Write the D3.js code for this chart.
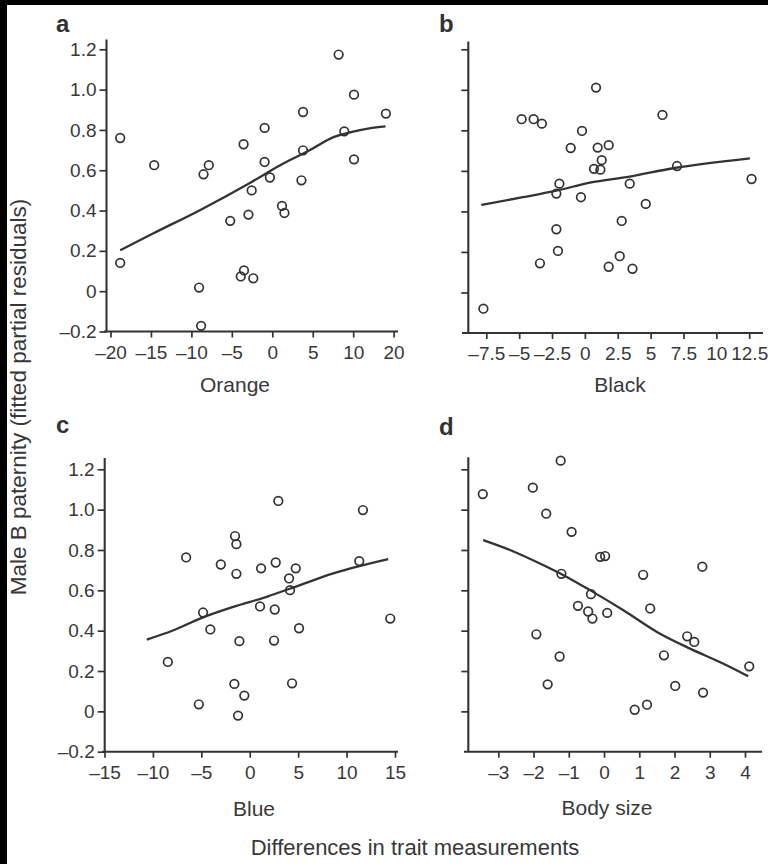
<!DOCTYPE html>
<html><head><meta charset="utf-8">
<script src="https://cdn.jsdelivr.net/npm/d3@7"></script>
<style>body{margin:0;background:#fff} svg{display:block}</style>
</head><body><svg id="chart" width="768" height="864"></svg>
<script>
// ---------- data ----------
const orangePoints = [[-18.8,0.76],[-18.8,0.14],[-14.6,0.625],[-8.5,0.58],[-7.85,0.625],[-9.05,0.018],[-8.8,-0.172],[-3.55,0.729],[-5.2,0.349],[-2.55,0.50],[-2.95,0.38],[-3.5,0.103],[-3.9,0.073],[-2.35,0.064],[-0.95,0.81],[-0.95,0.641],[-0.3,0.564],[1.2,0.423],[1.5,0.388],[3.8,0.889],[3.8,0.699],[3.6,0.55],[8.2,1.174],[8.9,0.793],[10.2,0.975],[10.2,0.654],[18.1,0.881]];
const orangeFit = [[-18.8,0.203],[-14.75,0.286],[-8.95,0.402],[-2.55,0.542],[1.35,0.633],[4.66,0.70],[7.5,0.763],[10,0.792],[14,0.808],[18,0.818]];

const blackPoints = [[-7.72,-0.08],[-4.81,0.855],[-3.9,0.855],[-3.27,0.833],[-1.08,0.713],[-0.22,0.797],[0.85,1.011],[0.97,0.715],[1.81,0.727],[1.28,0.653],[0.69,0.61],[1.18,0.606],[-1.94,0.537],[-2.17,0.488],[-0.3,0.47],[3.41,0.537],[4.63,0.437],[5.9,0.876],[7.01,0.624],[12.68,0.56],[-2.17,0.312],[-2.05,0.205],[-3.42,0.144],[2.8,0.353],[2.65,0.179],[1.81,0.127],[3.62,0.117]];
const blackFit = [[-7.88,0.432],[-4.71,0.47],[-2.17,0.502],[0.37,0.542],[3.41,0.572],[6.71,0.613],[12.55,0.662]];

const bluePoints = [[-6.57,0.763],[-4.82,0.49],[-4.07,0.406],[-8.46,0.245],[-5.26,0.035],[-2.99,0.728],[-1.52,0.869],[-1.38,0.829],[-1.38,0.682],[-1.07,0.348],[-1.59,0.136],[-0.56,0.078],[-1.21,-0.021],[1.17,0.709],[1.06,0.52],[2.95,1.043],[2.68,0.738],[2.58,0.505],[2.51,0.351],[4.06,0.659],[4.75,0.709],[4.16,0.601],[5.09,0.412],[4.37,0.139],[11.69,0.998],[11.31,0.745],[14.51,0.46]];
const blueFit = [[-10.63,0.356],[-7.88,0.402],[-5.13,0.46],[-1.69,0.518],[1.75,0.568],[5.19,0.626],[8.63,0.684],[14.3,0.755]];

const bodyPoints = [[-3.44,1.077],[-2.02,1.109],[-1.23,1.243],[-1.64,0.98],[-0.92,0.89],[-0.11,0.766],[0.03,0.77],[-1.21,0.682],[-0.37,0.581],[-0.74,0.523],[-0.45,0.495],[-0.33,0.46],[0.09,0.488],[1.11,0.677],[2.79,0.717],[1.31,0.51],[-1.92,0.382],[-1.26,0.272],[-1.6,0.134],[2.36,0.372],[2.56,0.344],[1.70,0.278],[2.02,0.126],[2.81,0.093],[0.87,0.008],[1.22,0.033],[4.12,0.223]];
const bodyFit = [[-3.43,0.849],[-2.67,0.80],[-1.82,0.733],[-1.15,0.675],[-0.40,0.601],[0.55,0.501],[1.50,0.394],[2.44,0.311],[3.39,0.236],[4.09,0.174]];

const orangeTicks = [-20,-15,-10,-5,0,5,10,20];
const orangeTickLabels = ["–20","–15","–10","–5","0","5","10","20"];
const blackTicks = [-7.5,-5,-2.5,0,2.5,5,7.5,10,12.5];
const blackTickLabels = ["–7.5","–5","–2.5","0","2.5","5","7.5","10","12.5"];
const blueTicks = [-15,-10,-5,0,5,10,15];
const blueTickLabels = ["–15","–10","–5","0","5","10","15"];
const bodyTicks = [-3,-2,-1,0,1,2,3,4];
const bodyTickLabels = ["–3","–2","–1","0","1","2","3","4"];
const yTicksLabelled = [-0.2,0,0.2,0.4,0.6,0.8,1.0,1.2];
const yTickLabels = ["–0.2","0","0.2","0.4","0.6","0.8","1.0","1.2"];
const yTicksPlain = [0,0.2,0.4,0.6,0.8,1.0,1.2];

const panelLetters = ["a","b","c","d"];
const xTitles = ["Orange","Black","Blue","Body size"];
const yTitle = "Male B paternity (fitted partial residuals)";
const mainTitle = "Differences in trait measurements";

// ---------- layout ----------
const ink = "#333", txt = "#383838";
const FONT = "'Liberation Sans', Arial, Helvetica, sans-serif";
const tickFS = 19, titleFS = 21;

const panels = [
  {pts:orangePoints, fit:orangeFit, xDom:[-20,10,20], xRange:[110.5,353.2,393.6], ticks:orangeTicks, tlabels:orangeTickLabels,
   yRange:[331.5,49.3], axisX:106.5, axisTop:39.5, xStart:104, xEnd:398, yLab:true, letter:[56,32], titleX:235, titleY:392},
  {pts:blackPoints, fit:blackFit, xDom:[-7.5,12.5], xRange:[486.3,749.2], ticks:blackTicks, tlabels:blackTickLabels,
   yRange:[333,49.3], axisX:468.3, axisTop:41.5, xStart:462, xEnd:763, yLab:false, letter:[439,32], titleX:620, titleY:392},
  {pts:bluePoints, fit:blueFit, xDom:[-15,15], xRange:[104.5,395], ticks:blueTicks, tlabels:blueTickLabels,
   yRange:[751.7,469.3], axisX:104.7, axisTop:458, xStart:102, xEnd:398, yLab:true, letter:[56,433], titleX:254, titleY:816},
  {pts:bodyPoints, fit:bodyFit, xDom:[-3,4], xRange:[498.3,745], ticks:bodyTicks, tlabels:bodyTickLabels,
   yRange:[751.7,469.3], axisX:468.3, axisTop:457.3, xStart:464, xEnd:762, yLab:false, letter:[439,435], titleX:607, titleY:815}
];

const svg = d3.select("#chart");
svg.append("rect").attr("width",768).attr("height",864).attr("fill","#fff");
// black frame strips
svg.append("rect").attr("x",0).attr("y",0).attr("width",768).attr("height",5).attr("fill","#000");
svg.append("rect").attr("x",0).attr("y",0).attr("width",7).attr("height",864).attr("fill","#000");

panels.forEach((p,i) => {
  const x = d3.scaleLinear().domain(p.xDom).range(p.xRange);
  const y = d3.scaleLinear().domain([-0.2,1.2]).range(p.yRange);
  const g = svg.append("g");
  const xAxisY = y(-0.2);

  // x axis
  const xa = g.append("g").attr("transform",`translate(0,${xAxisY})`)
    .call(d3.axisBottom(x).tickValues(p.ticks).tickFormat((d,k)=>p.tlabels[k]).tickSize(6).tickSizeOuter(0).tickPadding(8));
  xa.select(".domain").remove();
  // y axis
  const ya = g.append("g").attr("transform",`translate(${p.axisX},0)`)
    .call(d3.axisLeft(y).tickValues(p.yLab ? yTicksLabelled : yTicksPlain)
      .tickFormat(p.yLab ? ((d,k)=>yTickLabels[k]) : (()=>"")).tickSize(7).tickSizeOuter(0).tickPadding(3));
  ya.select(".domain").remove();
  [xa, ya].forEach(a => {
    a.selectAll(".tick line").attr("stroke",ink).attr("stroke-width",1.7);
    a.selectAll(".tick text").attr("fill",txt).style("font-family",FONT).style("font-size",tickFS+"px");
  });
  // axis lines
  g.append("line").attr("x1",p.xStart).attr("x2",p.xEnd).attr("y1",xAxisY).attr("y2",xAxisY)
    .attr("stroke",ink).attr("stroke-width",2.1);
  g.append("line").attr("x1",p.axisX).attr("x2",p.axisX).attr("y1",p.axisTop).attr("y2",xAxisY)
    .attr("stroke",ink).attr("stroke-width",2.1);

  // fit line
  g.append("path").datum(p.fit)
    .attr("d", d3.line().x(d=>x(d[0])).y(d=>y(d[1])).curve(d3.curveMonotoneX))
    .attr("fill","none").attr("stroke",ink).attr("stroke-width",2.3);

  // points
  g.selectAll("circle").data(p.pts).join("circle")
    .attr("cx",d=>x(d[0])).attr("cy",d=>y(d[1])).attr("r",4.3)
    .attr("fill","none").attr("stroke",ink).attr("stroke-width",1.7);

  // letter
  g.append("text").attr("x",p.letter[0]).attr("y",p.letter[1]).text(panelLetters[i])
    .attr("fill","#333").style("font-family",FONT).style("font-weight","bold").style("font-size","24px");
  // x title
  g.append("text").attr("x",p.titleX).attr("y",p.titleY).attr("text-anchor","middle").text(xTitles[i])
    .attr("fill",txt).style("font-family",FONT).style("font-size",titleFS+"px");
});

svg.append("text").attr("transform","translate(26,397) rotate(-90)").attr("text-anchor","middle")
  .text(yTitle).attr("fill",txt).style("font-family",FONT).style("font-size","22.5px");
svg.append("text").attr("x",415).attr("y",855).attr("text-anchor","middle")
  .text(mainTitle).attr("fill",txt).style("font-family",FONT).style("font-size","22px");
</script></body></html>
